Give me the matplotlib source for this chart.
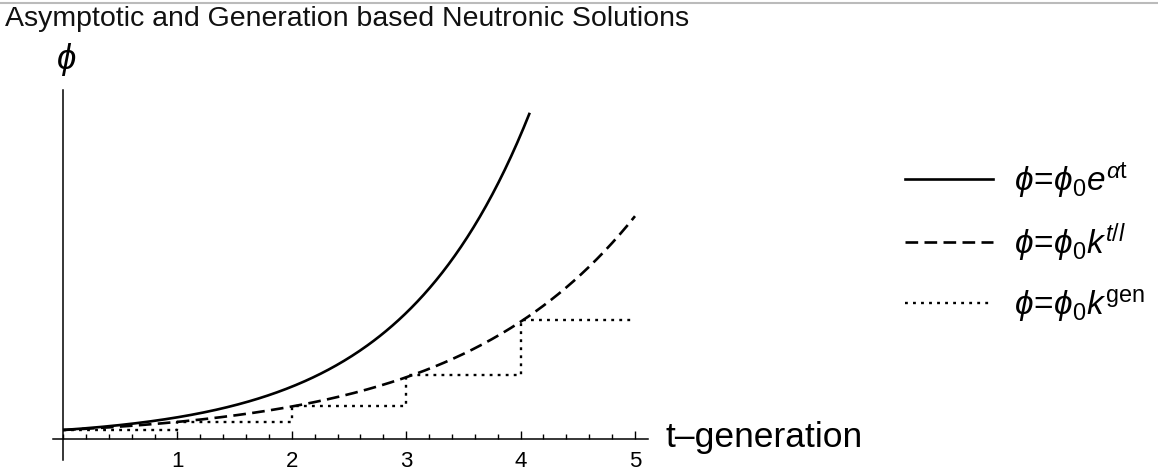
import numpy as np
import matplotlib
matplotlib.use("Agg")
import matplotlib.pyplot as plt
from matplotlib.lines import Line2D
from matplotlib.ticker import MultipleLocator, FixedLocator

plt.rcParams['font.family'] = ['Liberation Sans', 'DejaVu Sans']
plt.rcParams['mathtext.fontset'] = 'custom'
plt.rcParams['mathtext.rm'] = 'Liberation Sans'
plt.rcParams['mathtext.it'] = 'Liberation Sans:italic'
plt.rcParams['mathtext.bf'] = 'Liberation Sans:bold'

# ---- data (phi0 = 1 unit) ----
PHI0 = 1.0          # starting flux
ALPHA = 0.88        # asymptotic growth rate (solid curve)
K = 1.9             # multiplication factor per generation (dashed curve)
T_END_SOLID = 4.08  # solid curve is clipped here in the reference
T_END = 5.0
generations = [0, 1, 2, 3, 4, 5]
gen_values = [1.0, 1.9, 3.7, 7.1, 13.2, 13.2]   # dotted step heights
tick_positions = [1, 2, 3, 4, 5]
tick_labels = ['1', '2', '3', '4', '5']
labels = [r'$\phi\!=\!\phi_0 e^{\alpha \mathrm{t}}$',
          r'$\phi\!=\!\phi_0 k^{t/l}$',
          r'$\phi\!=\!\phi_0 k^{\mathrm{gen}}$']
title = 'Asymptotic and Generation based Neutronic Solutions'
xlabel = 't\u2013generation'

W, H = 1158, 476
fig = plt.figure(figsize=(W / 100, H / 100), dpi=100)

def fx(px):
    return px / W

def fy(py):
    return 1 - py / H

# axes placement (pixels)
ax_l, ax_r, ax_t, ax_b = 53, 648, 90, 460
ax = fig.add_axes([fx(ax_l), fy(ax_b), (ax_r - ax_l) / W, (ax_b - ax_t) / H])
x0_px, xscale = 63, 114.4
y0_px, yscale = 439, 9.0
ax.set_xlim((ax_l - x0_px) / xscale, (ax_r - x0_px) / xscale)
ax.set_ylim(-(ax_b - y0_px) / yscale, (y0_px - ax_t) / yscale)

t1 = np.linspace(0, T_END_SOLID, 300)
t2 = np.linspace(0, T_END, 300)
ax.plot(t1, PHI0 * np.exp(ALPHA * t1), color='black', lw=1.9, solid_capstyle='butt')
ax.plot(t2, PHI0 * K ** t2, color='black', lw=1.9, linestyle=(0, (4.8, 2.4)))
ax.step(generations, gen_values, where='post', color='black', lw=1.7,
        linestyle=(0, (1.2, 2.2)))

for s in ['top', 'right']:
    ax.spines[s].set_visible(False)
ax.spines['left'].set_position(('data', 0))
ax.spines['bottom'].set_position(('data', 0))
for s in ['left', 'bottom']:
    ax.spines[s].set_linewidth(1.1)
ax.yaxis.set_visible(False)
ax.xaxis.set_major_locator(FixedLocator(tick_positions))
ax.set_xticklabels(tick_labels)
ax.xaxis.set_minor_locator(MultipleLocator(0.2))
ax.tick_params(axis='x', which='major', direction='in', length=5.5, width=1.0,
               labelsize=16, pad=8.5)
ax.tick_params(axis='x', which='minor', direction='in', length=3.5, width=1.0)
ax.patch.set_alpha(0)

# y label and x label
fig.text(fx(66), fy(59), r'$\phi$', fontsize=25, ha='center', va='center')
fig.text(fx(665), fy(447), xlabel, fontsize=25.5, ha='left', va='baseline')

# title and top rule
fig.text(fx(5), fy(6), title, fontsize=20.5, ha='left', va='top', color='#111111')
fig.add_artist(Line2D([0, 1], [fy(3), fy(3)], color='#bbbbbb', lw=1.5,
                      transform=fig.transFigure))

# legend
styles = [dict(lw=1.9, linestyle='-'),
          dict(lw=1.9, linestyle=(0, (4.8, 2.4))),
          dict(lw=1.7, linestyle=(0, (1.2, 2.2)))]
rows = [179, 242, 303]
for lab, st, r in zip(labels, styles, rows):
    fig.add_artist(Line2D([fx(905), fx(993)], [fy(r), fy(r)], color='black',
                          transform=fig.transFigure, **st))
    fig.text(fx(1014), fy(r + 12), lab, fontsize=24, ha='left', va='baseline')

fig.savefig('out.png', dpi=100)
